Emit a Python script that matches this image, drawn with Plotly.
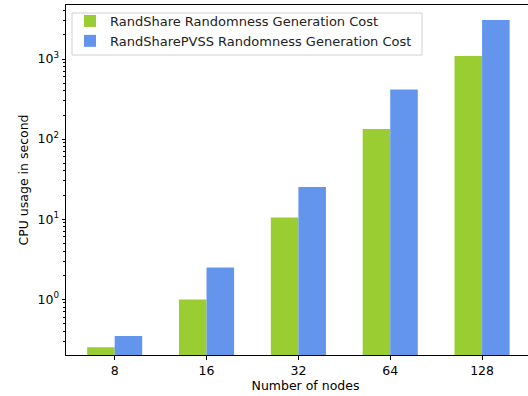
import plotly.graph_objects as go

categories = ["8", "16", "32", "64", "128"]
randshare = [0.251, 0.99, 10.5, 134, 1090]
randshare_pvss = [0.348, 2.49, 25.3, 418, 3070]
series_names = ["RandShare Randomness Generation Cost", "RandSharePVSS Randomness Generation Cost"]
ytick_vals = [1, 10, 100, 1000]
ytick_text = ["10<sup>0</sup>", "10<sup>1</sup>", "10<sup>2</sup>", "10<sup>3</sup>"]

font = "DejaVu Sans"
fig = go.Figure()
fig.add_trace(go.Bar(x=categories, y=randshare, name=series_names[0], marker=dict(color="#9ACD32", line=dict(width=0))))
fig.add_trace(go.Bar(x=categories, y=randshare_pvss, name=series_names[1], marker=dict(color="#6495ED", line=dict(width=0))))

W, H = 545, 396
ml, mr, mt, mb = 66, 0, 5, 41
pw, ph = W - ml - mr, H - mt - mb

def px_x(x):
    return (x - ml) / pw

def px_y(y):
    return 1 - (y - mt) / ph

fig.update_layout(
    width=W, height=H,
    margin=dict(l=ml, r=mr, t=mt, b=mb, autoexpand=False),
    paper_bgcolor="white", plot_bgcolor="white",
    barmode="group", bargap=0.4, bargroupgap=0,
    font=dict(family=font, size=12.5, color="black"),
    showlegend=True,
    legend=dict(x=px_x(70), y=px_y(6), xanchor="left", yanchor="top",
                bgcolor="rgba(0,0,0,0)", borderwidth=0,
                font=dict(size=13, color="#222"), itemwidth=30, tracegroupgap=0),
    shapes=[dict(type="rect", xref="paper", yref="paper", layer="below",
                 x0=px_x(72), x1=px_x(422), y0=px_y(55), y1=px_y(13),
                 fillcolor="white", line=dict(color="#d0d0d0", width=1))],
    xaxis=dict(type="category", range=[-0.53, 4.685], showline=True, linecolor="black", linewidth=1,
               mirror=True, ticks="outside", ticklen=3.5, tickcolor="black", showgrid=False,
               automargin=False,
               title=dict(text="Number of nodes", standoff=4, font=dict(size=12.5))),
    yaxis=dict(type="log", range=[-0.696, 3.675], showline=True, linecolor="black", linewidth=1,
               ticks="outside", ticklen=3.5, tickcolor="black", showgrid=False, zeroline=False,
               automargin=False,
               tickvals=ytick_vals, ticktext=ytick_text,
               minor=dict(ticks="outside", ticklen=2, tickcolor="black", dtick="D1", showgrid=False),
               title=dict(text="CPU usage in second", standoff=6, font=dict(size=12.5))),
)
fig.write_html("out.html", config={"displayModeBar": False},
               post_script="document.documentElement.style.overflow='hidden';document.body.style.margin='0';document.body.style.overflow='hidden';")
